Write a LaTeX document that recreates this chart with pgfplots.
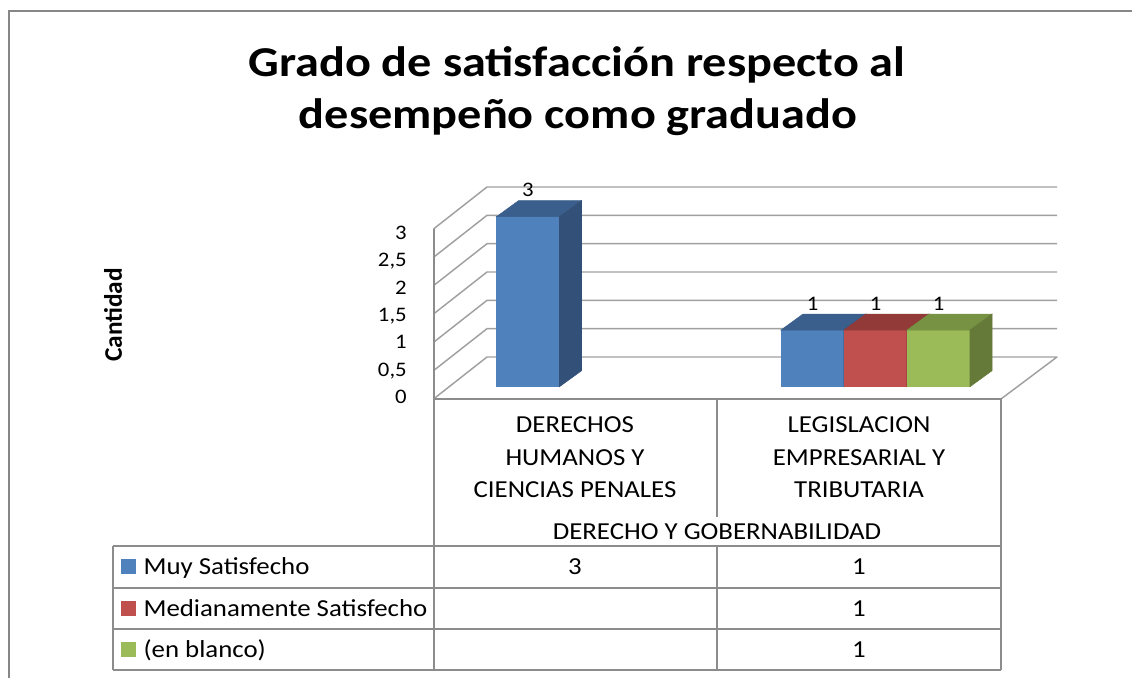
\documentclass[border=0pt]{standalone}
\usepackage{pgfplots}
\pgfplotsset{compat=1.18}
\usepackage{pgfplotstable}
\usepackage{graphicx}
\usepackage{fontspec}
\setmainfont{Carlito}

\definecolor{bfront}{HTML}{4F81BD}
\definecolor{btop}{HTML}{3A5F8C}
\definecolor{bside}{HTML}{325078}
\definecolor{rfront}{HTML}{C0504D}
\definecolor{rtop}{HTML}{923A38}
\definecolor{rside}{HTML}{7E3230}
\definecolor{gfront}{HTML}{9BBB59}
\definecolor{gtop}{HTML}{769242}
\definecolor{gside}{HTML}{657A39}
\definecolor{framegray}{HTML}{878787}
\definecolor{wallgray}{HTML}{A0A0A0}
\definecolor{tablegray}{HTML}{8C8C8C}

\pgfplotstableread{
x v
0 3
1 1
}\tblue
\pgfplotstableread{
x v
1 1
}\tred
\pgfplotstableread{
x v
1 1
}\tgreen

\newcommand\sx[1]{\scalebox{1.1}[1]{#1}}
\newcommand\catfont{\fontsize{18.3}{22}\selectfont}
\newcommand\numfont{\fontsize{15.5}{18}\selectfont}
\newcommand\datalab[1]{{\numfont\sx{#1}}}

\pgfdeclareplotmark{nothing}{}

% full 3-D prism drawn at each data point (front, top, side) with its value label
\pgfplotsset{
  barcap/.style n args={4}{%
    only marks, mark=nothing, scatter,
    visualization depends on={rawy\as\barval},
    scatter/@pre marker code/.code={%
      \fill[#4] ({#1-23.625pt},0pt) rectangle ({#1+23.625pt},{-\barval*42.5pt});
      \fill[#2] ({#1-23.625pt},0pt) -- ++(16.5pt,12pt) -- ++(47.25pt,0pt) -- ++(-16.5pt,-12pt) -- cycle;
      \fill[#3] ({#1+23.625pt},0pt) -- ++(16.5pt,12pt) -- ++(0pt,{-\barval*42.5pt}) -- ++(-16.5pt,-12pt) -- cycle;
      \node[text=black, inner sep=0pt] at ({#1},20pt) {\datalab{\pgfmathprintnumber{\barval}}};
    },
    scatter/@post marker code/.code={},
  },
}

\begin{document}
\begin{tikzpicture}
\begin{scope}[x=0.75pt,y=-0.75pt]
  % outer frame
  \draw[framegray, line width=1.5pt] (8.5,720) -- (8.5,11) -- (1160,11);
  % walls and floor
  \foreach \v in {0.5,1,1.5,2,2.5,3}{
    \draw[wallgray, line width=1.1pt] (433.5,{399-56.67*\v}) -- (487,{357-56.67*\v}) -- (1057,{357-56.67*\v});
  }
  \draw[wallgray, line width=1.1pt, line join=round] (433.5,399) -- (487,357) -- (1057,357) -- (1001,399);
  % front edge and data table grid
  \begin{scope}[tablegray, line width=1.5pt]
    \draw (433.5,229) -- (433.5,670);
    \draw (433.5,399) -- (1001,399) -- (1001,670);
    \draw (717,399) -- (717,517);
    \draw (717,545.5) -- (717,670);
    \foreach \yy in {545.5,587.5,629,670} \draw (112.5,\yy) -- (1001,\yy);
    \draw (112.5,545.5) -- (112.5,670);
  \end{scope}
  % title
  \node[anchor=base, font=\fontsize{31.9}{36}\selectfont\bfseries] at (577,76) {\scalebox{1.135}[1]{Grado de satisfacción respecto al}};
  \node[anchor=base, font=\fontsize{31.9}{36}\selectfont\bfseries] at (578,128) {\scalebox{1.135}[1]{desempeño como graduado}};
  % y label
  \node[rotate=90, font=\fontsize{19}{22}\selectfont\bfseries] at (113,315) {Cantidad};
  % category labels
  \node[anchor=base, font=\catfont] at (575,432) {\sx{DERECHOS}};
  \node[anchor=base, font=\catfont] at (575,465) {\sx{HUMANOS Y}};
  \node[anchor=base, font=\catfont] at (575,497) {\sx{CIENCIAS PENALES}};
  \node[anchor=base, font=\catfont] at (859,432) {\sx{LEGISLACION}};
  \node[anchor=base, font=\catfont] at (859,465) {\sx{EMPRESARIAL Y}};
  \node[anchor=base, font=\catfont] at (859,497) {\sx{TRIBUTARIA}};
  \node[anchor=base, font=\catfont] at (717,539) {\sx{DERECHO Y GOBERNABILIDAD}};
  % data table rows
  \fill[bfront] (121,559) rectangle (135.7,574);
  \fill[rfront] (121,600.5) rectangle (135.7,615.5);
  \fill[gfront] (121,642) rectangle (135.7,657);
  \node[anchor=base west, inner sep=0pt, font=\catfont] at (143.3,574.5) {\sx{Muy Satisfecho}};
  \node[anchor=base west, inner sep=0pt, font=\catfont] at (143.3,616) {\sx{Medianamente Satisfecho}};
  \node[anchor=base west, inner sep=0pt, font=\catfont] at (143.3,657.5) {\sx{(en blanco)}};
  \node[anchor=base, font=\catfont] at (575,574.5) {\sx{3}};
  \node[anchor=base, font=\catfont] at (859,574.5) {\sx{1}};
  \node[anchor=base, font=\catfont] at (859,616) {\sx{1}};
  \node[anchor=base, font=\catfont] at (859,657.5) {\sx{1}};
\end{scope}

% y tick labels on the front plane
\begin{axis}[at={(325.125pt,-297.75pt)}, anchor=south west, scale only axis,
  width=425.6pt, height=123pt, xmin=0, xmax=1, ymin=0, ymax=3,
  ytick={0,0.5,1,1.5,2,2.5,3}, xtick=\empty,
  axis line style={draw=none}, major tick length=0pt,
  /pgf/number format/use comma, /pgf/number format/assume math mode=true,
  yticklabel={\datalab{\pgfmathprintnumber{\tick}}},
  yticklabel style={anchor=base east, inner sep=0pt, xshift=-19.9pt, yshift=-4.9pt}]
\end{axis}

% bars on their own plane
\begin{axis}[at={(0pt,-508.5pt)}, anchor=south west, scale only axis,
  width=849pt, height=508.5pt,
  xmin=-2.07733, xmax=1.90158, ymin=-5.1403, ymax=6.8237,
  hide axis, clip=false,
  /pgf/number format/assume math mode=true]
  \addplot[ybar, bar width=47.25pt, bar shift=-47.25pt, fill=bfront, draw=none] table[x=x, y=v] {\tblue};
  \addplot[ybar, bar width=47.25pt, bar shift=0pt, fill=rfront, draw=none] table[x=x, y=v] {\tred};
  \addplot[ybar, bar width=47.25pt, bar shift=47.25pt, fill=gfront, draw=none] table[x=x, y=v] {\tgreen};
  \addplot[barcap={-47.25pt}{btop}{bside}{bfront}] table[x=x, y=v] {\tblue};
  \addplot[barcap={0pt}{rtop}{rside}{rfront}] table[x=x, y=v] {\tred};
  \addplot[barcap={47.25pt}{gtop}{gside}{gfront}] table[x=x, y=v] {\tgreen};
\end{axis}

\pgfresetboundingbox
\path[use as bounding box] (0pt,0pt) rectangle (849pt,-508.5pt);
\end{tikzpicture}
\end{document}
